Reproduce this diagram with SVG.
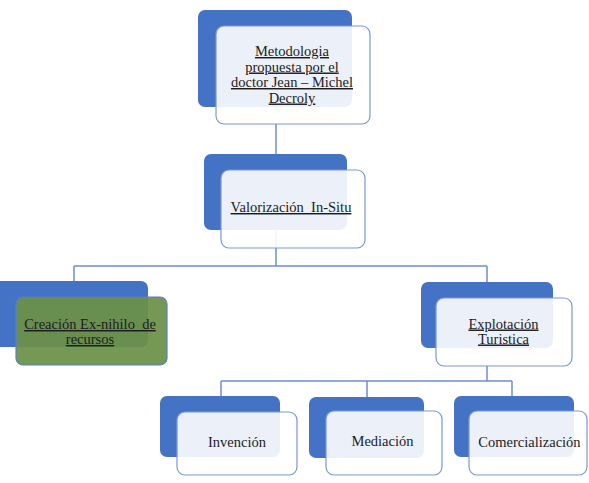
<svg xmlns="http://www.w3.org/2000/svg" width="589" height="483" viewBox="0 0 589 483">
<style>
.bg{fill:#4472c4}
.fg{fill:#ffffff;fill-opacity:0.9;stroke:#7b97cf;stroke-width:1.2}
.gr{fill:#6a9147;fill-opacity:0.93;stroke:#5b7fbf;stroke-width:1.2}
.t{font-family:'Liberation Serif','DejaVu Serif',serif;font-size:14.5px;fill:#1c1c1c;text-anchor:middle}
.u{text-decoration:underline}
.c{fill:none;stroke:#6f8fca;stroke-width:1.5}
</style>
<rect width="589" height="483" fill="#ffffff"/>
<g id="connectors">
<path class="c" d="M276 124V266M74 266H487M74 266V281M487 266V282"/>
<path class="c" d="M487 366V381M221 381H512M221 381V396M367 381V397M512 381V396"/>
</g>
<g id="n-metodologia">
<rect class="bg" x="198" y="10" width="154" height="97" rx="7"/>
<rect class="fg" x="216" y="26" width="154" height="98" rx="8"/>
<text class="t u" x="292" y="56">Metodologia</text>
<text class="t u" x="292" y="71.5">propuesta por el</text>
<text class="t u" x="292" y="87">doctor Jean – Michel</text>
<text class="t u" x="292" y="102.5">Decroly</text>
</g>
<g id="n-valorizacion">
<rect class="bg" x="204" y="154" width="143" height="76" rx="7"/>
<rect class="fg" x="221" y="170" width="144" height="78" rx="8"/>
<text class="t u" x="291" y="212" xml:space="preserve">Valorización  In-Situ</text>
</g>
<g id="n-creacion">
<rect class="bg" x="-6" y="281" width="154" height="66" rx="7"/>
<rect class="gr" x="16" y="297" width="151" height="68" rx="7"/>
<text class="t u" x="90" y="329" xml:space="preserve">Creación Ex-nihilo  de</text>
<text class="t u" x="90" y="344">recursos</text>
</g>
<g id="n-explotacion">
<rect class="bg" x="421" y="282" width="132" height="66" rx="7"/>
<rect class="fg" x="436" y="298" width="136" height="68" rx="8"/>
<text class="t u" x="503.5" y="328.5">Explotación</text>
<text class="t u" x="503.5" y="343.5">Turistica</text>
</g>
<g id="n-invencion">
<rect class="bg" x="160" y="396" width="120" height="61" rx="7"/>
<rect class="fg" x="177" y="412" width="120" height="63" rx="8"/>
<text class="t" x="237" y="447">Invención</text>
</g>
<g id="n-mediacion">
<rect class="bg" x="309" y="397" width="115" height="61" rx="7"/>
<rect class="fg" x="326" y="411" width="116" height="64" rx="8"/>
<text class="t" x="382.5" y="446">Mediación</text>
</g>
<g id="n-comercializacion">
<rect class="bg" x="454" y="396" width="120" height="61" rx="7"/>
<rect class="fg" x="469" y="411" width="118" height="64" rx="8"/>
<text class="t" x="529.5" y="447">Comercialización</text>
</g>
</svg>
